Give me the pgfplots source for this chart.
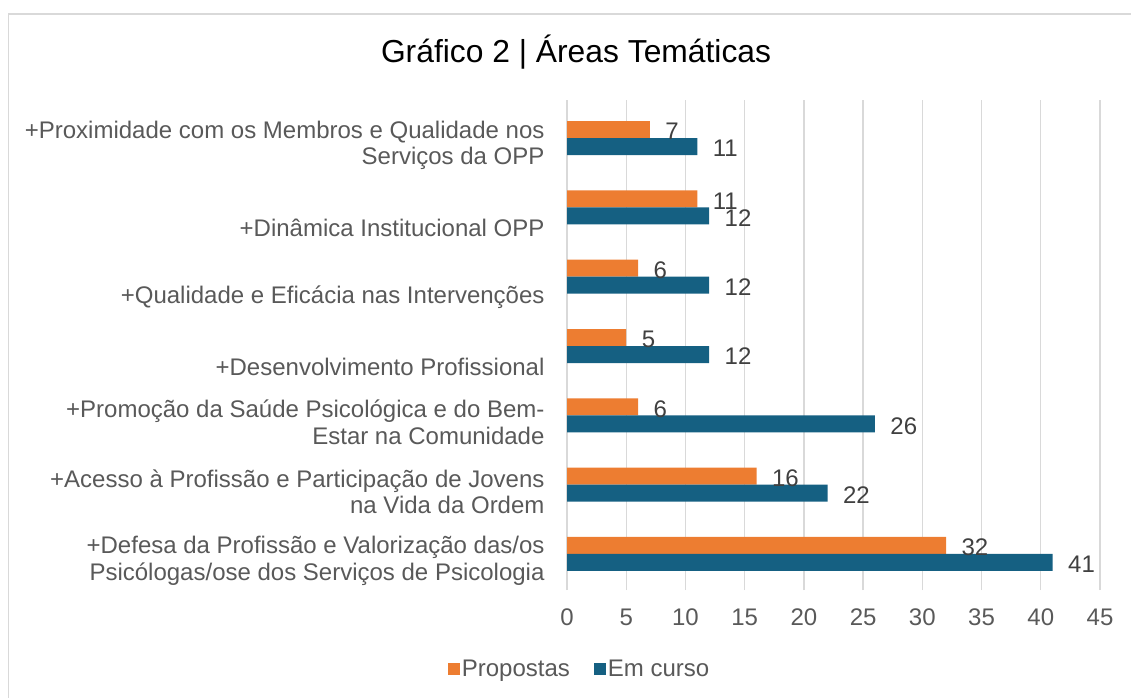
\documentclass[border=0pt]{standalone}
\usepackage{fontspec}
\setmainfont{Liberation Sans}
\usepackage{pgfplots}
\pgfplotsset{compat=1.18}
\definecolor{cOr}{HTML}{ED7D31}
\definecolor{cBl}{HTML}{156082}
\definecolor{cGr}{HTML}{D9D9D9}
\definecolor{cTx}{HTML}{595959}
\definecolor{cLb}{HTML}{404040}
\begin{document}
\begin{tikzpicture}[x=1pt,y=1pt]
\useasboundingbox (0,0) rectangle (1131,697);
\draw[cGr, line width=1.5pt] (8.5,-5) -- (8.5,683) -- (1140,683);
\node[font=\fontsize{31.8}{36}\selectfont, text=black] at (576,645) {Gráfico 2 | Áreas Temáticas};
\begin{axis}[
  at={(567pt,107pt)}, anchor=south west,
  scale only axis, width=533pt, height=490pt,
  xbar, bar width=17pt,
  xmin=0, xmax=45, ymin=-0.52, ymax=6.55,
  xtick={0,5,...,45},
  ytick={0,...,6},
  yticklabels={
    {+Defesa da Profissão e Valorização das/os\\Psicólogas/ose dos Serviços de Psicologia},
    {+Acesso à Profissão e Participação de Jovens\\na Vida da Ordem},
    {+Promoção da Saúde Psicológica e do Bem-\\Estar na Comunidade},
    {\strut\\+Desenvolvimento Profissional},
    {\strut\\+Qualidade e Eficácia nas Intervenções},
    {\strut\\+Dinâmica Institucional OPP},
    {+Proximidade com os Membros e Qualidade nos\\Serviços da OPP}},
  yticklabel style={align=right, font=\fontsize{24}{26.5}\selectfont, text=cTx, yshift=-7pt, xshift=-19pt},
  xticklabel style={font=\fontsize{24}{26}\selectfont, text=cTx, yshift=-15pt},
  /pgf/number format/assume math mode=true,
  major tick length=0pt,
  xmajorgrids, grid style={cGr, line width=1.3pt},
  axis line style={draw=none},
  nodes near coords,
  nodes near coords style={font=\fontsize{24}{26}\selectfont, text=cLb, anchor=west, xshift=12pt, yshift=-2pt},
  legend style={at={(0.0235,-0.161)}, anchor=center, draw=none, legend columns=2, font=\fontsize{24}{26}\selectfont, text=cTx, inner sep=0pt, /tikz/every even column/.append style={column sep=22pt}, /tikz/every odd column/.append style={column sep=0pt}},
  legend image code/.code={\fill[#1] (0pt,-6pt) rectangle (12pt,6pt);},
]
\addplot[fill=cOr, draw=none, bar shift=8.5pt] coordinates {(32,0) (16,1) (6,2) (5,3) (6,4) (11,5) (7,6)};
\addplot[fill=cBl, draw=none, bar shift=-8.5pt] coordinates {(41,0) (22,1) (26,2) (12,3) (12,4) (12,5) (11,6)};
\legend{Propostas, Em curso}
\end{axis}
\end{tikzpicture}
\end{document}
